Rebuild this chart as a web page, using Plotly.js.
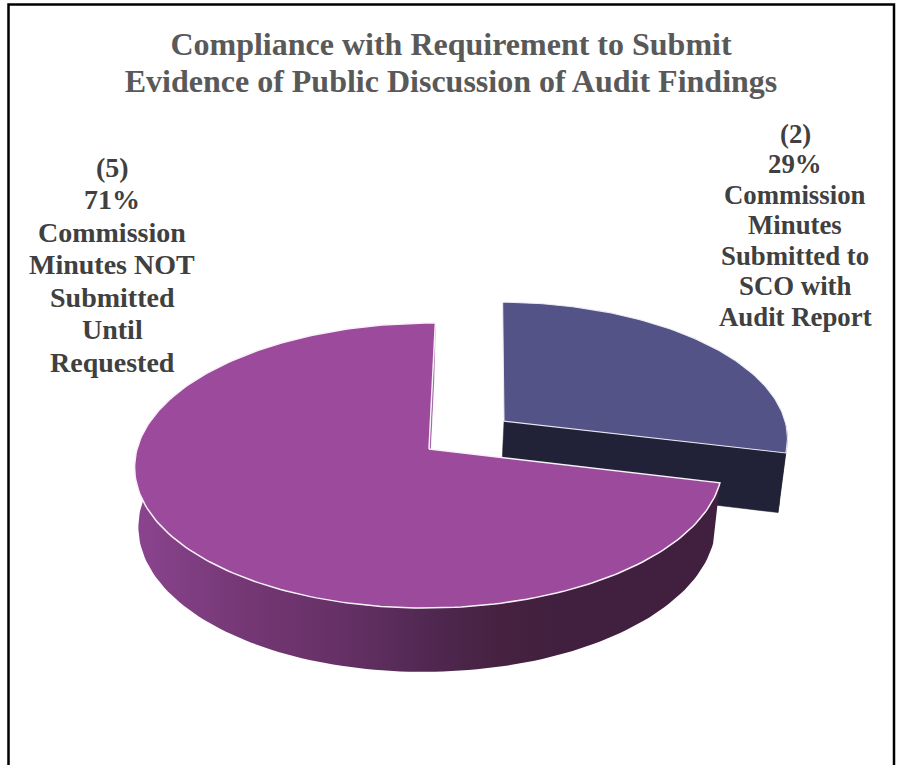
<!DOCTYPE html>
<html><head><meta charset="utf-8">
<script src="https://cdn.plot.ly/plotly-3.0.1.min.js"></script>
<style>html,body{margin:0;padding:0;background:#fff;overflow:hidden}</style>
</head><body><div id="chart" style="width:897px;height:765px"></div>
<script>
// ---- data ----
var sliceValues = [2, 5];
var sliceNames = ['Commission Minutes Submitted to SCO with Audit Report', 'Commission Minutes NOT Submitted Until Requested'];
var rightLabelLines = ['(2)', '29%', 'Commission', 'Minutes', 'Submitted to', 'SCO with', 'Audit Report'];
var leftLabelLines = ['(5)', '71%', 'Commission', 'Minutes NOT', 'Submitted', 'Until', 'Requested'];
var titleLines = ['Compliance with Requirement to Submit', 'Evidence of Public Discussion of Audit Findings'];

// ---- styles ----
var topColors = ['#535387', '#9C4A9C'];
var wallColors = ['#212137', '#8A4490'];
var sideGradient = [[0, '#8A448E'], [0.19, '#743774'], [0.365, '#643064'], [0.5, '#502852'], [0.62, '#462240'], [0.72, '#40203E'], [1, '#40203E']];

// ---- perspective projection of the pie disc ----
var cam = {cx: 429, cy: 449, R: 292, H: 140.6, D: 60.5, k: 0.1158, m: 0.018, shear: 0.025};
var rotationDeg = 0.7, explodeFirst = 0.33, explodedRadius = 0.985;

function project(u, v, w) {
  var s = 1 / (1 + cam.k * v + cam.m * w);
  var y = cam.cy - (cam.H * v - cam.D * w) * s;
  return [cam.cx + cam.R * u * s - cam.shear * (y - cam.cy), y];
}
function rad(d) { return d * Math.PI / 180; }
function rimPoint(deg, off, w, r) { return project(off[0] + r * Math.sin(rad(deg)), off[1] + r * Math.cos(rad(deg)), w); }
function arc(a, b, off, w, n, r) {
  var out = [];
  for (var i = 0; i <= n; i++) out.push(rimPoint(a + (b - a) * i / n, off, w, r));
  return out;
}
function poly(points, fill, lineColor, lineWidth, name) {
  return {
    type: 'scatter', mode: 'lines', fill: 'toself', fillcolor: fill, name: name || '',
    x: points.map(function (p) { return p[0]; }), y: points.map(function (p) { return p[1]; }),
    line: {color: lineColor, width: lineWidth, shape: 'linear'},
    hoverinfo: 'skip', showlegend: false
  };
}

var total = sliceValues.reduce(function (a, b) { return a + b; }, 0);
var a0 = rotationDeg, a1 = a0 + 360 * sliceValues[0] / total, a2 = a0 + 360;
var mid = (a0 + a1) / 2;
var offBlue = [explodeFirst * Math.sin(rad(mid)), explodeFirst * Math.cos(rad(mid))];
var offNone = [0, 0];
var rB = explodedRadius;
var traces = [];

// first slice (pulled out): walls then top
var blueTip = project(offBlue[0], offBlue[1], 0), blueTipLow = project(offBlue[0], offBlue[1], 1);
traces.push(poly([blueTip, rimPoint(a1, offBlue, 0, rB), rimPoint(a1, offBlue, 1, rB), blueTipLow, blueTip], wallColors[0], wallColors[0], 0.5));
traces.push(poly(arc(92, a1, offBlue, 0, 16, rB).concat(arc(a1, 92, offBlue, 1, 16, rB)), wallColors[0], wallColors[0], 0.5));
traces.push(poly([blueTip].concat(arc(a0, a1, offBlue, 0, 90, rB), [blueTip]), topColors[0], 'rgba(238,238,246,0.95)', 1.1, sliceNames[0]));

// second slice: start-edge wall, gradient outer wall, top
var tip = project(0, 0, 0), tipLow = project(0, 0, 1);
traces.push(poly([tip, rimPoint(a2, offNone, 0, 1), rimPoint(a2, offNone, 1, 1), tipLow, tip], wallColors[1], wallColors[1], 0.5));
var sideEnd = 286;
var side = arc(a1, sideEnd, offNone, 0, 120, 1).concat(arc(sideEnd, a1, offNone, 1, 120, 1));
var sideTrace = poly(side.concat([side[0]]), '#643064', 'rgba(0,0,0,0)', 0);
sideTrace.fillgradient = {type: 'horizontal', start: 137, stop: 720, colorscale: sideGradient};
traces.push(sideTrace);
traces.push(poly([tip].concat(arc(a1, a2, offNone, 0, 220, 1), [tip]), topColors[1], '#F8F2F8', 1.5, sliceNames[1]));

// ---- text ----
var annotations = [];
function addLines(lines, x, y0, dy, size) {
  lines.forEach(function (t, i) {
    annotations.push({
      x: x, y: y0 + dy * i, xref: 'x', yref: 'y', text: t, showarrow: false,
      xanchor: 'center', yanchor: 'middle',
      font: {family: '"Liberation Serif", "Times New Roman", serif', size: size, color: '#404040', weight: 700}
    });
  });
}
addLines(rightLabelLines, 795, 133.5, 30.5, 26.8);
addLines(leftLabelLines, 112, 167, 32.5, 28);

var layout = {
  width: 897, height: 765, margin: {l: 0, r: 0, t: 0, b: 0},
  paper_bgcolor: '#fff', plot_bgcolor: '#fff', showlegend: false,
  title: {
    text: titleLines.join('<br>'), x: 451 / 897, xanchor: 'center', y: 1 - 44 / 765, yanchor: 'middle',
    font: {family: '"Liberation Serif", "Times New Roman", serif', size: 32, color: '#595959', weight: 700}
  },
  xaxis: {range: [0, 897], visible: false, fixedrange: true},
  yaxis: {range: [765, 0], visible: false, fixedrange: true},
  annotations: annotations,
  shapes: [{type: 'rect', xref: 'x', yref: 'y', x0: 8.5, x1: 894, y0: 4.5, y1: 790, line: {color: '#000', width: 2.5}, fillcolor: 'rgba(0,0,0,0)', layer: 'above'}]
};
Plotly.newPlot('chart', traces, layout, {staticPlot: true, displayModeBar: false}).then(function () {
  var lines = document.querySelectorAll('.gtitle tspan.line');
  if (lines.length === 2) {
    lines[0].setAttribute('y', 55);
    lines[1].setAttribute('y', 92);
    lines[1].removeAttribute('dy');
  }
});
</script></body></html>
